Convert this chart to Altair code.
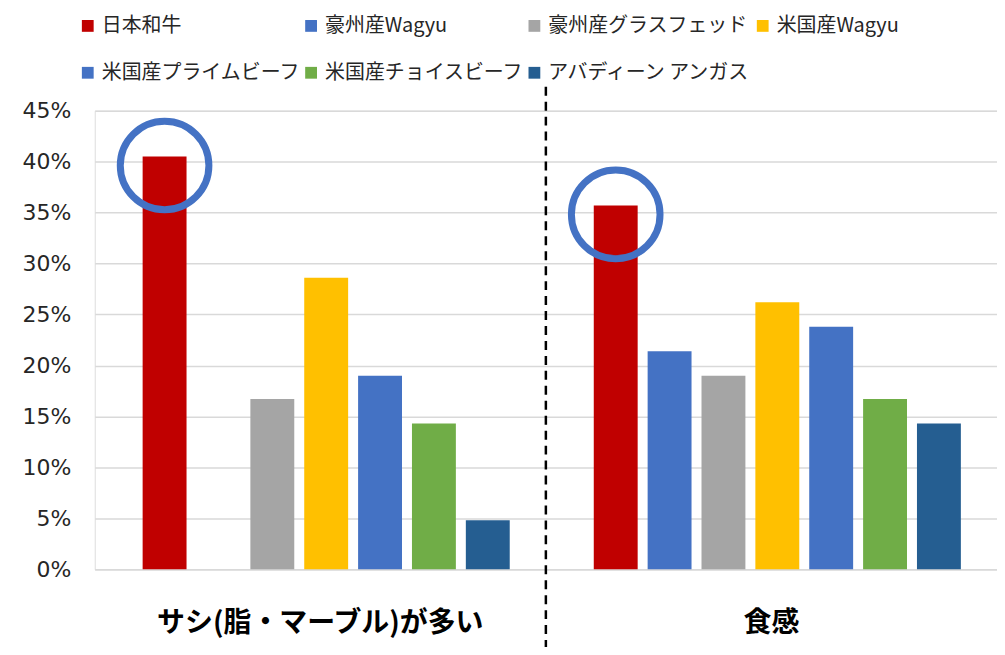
import altair as alt
import pandas as pd

groups = ["サシ(脂・マーブル)が多い", "食感"]
series = ["日本和牛", "豪州産Wagyu", "豪州産グラスフェッド", "米国産Wagyu",
          "米国産プライムビーフ", "米国産チョイスビーフ", "アバディーン アンガス"]
colors = ["#C00000", "#4472C4", "#A5A5A5", "#FFC000", "#4472C4", "#70AD47", "#255E91"]
values_sashi = [0.405, 0.0, 0.167, 0.286, 0.190, 0.143, 0.048]
values_texture = [0.357, 0.214, 0.190, 0.262, 0.238, 0.167, 0.143]
y_ticks = [0, 0.05, 0.10, 0.15, 0.20, 0.25, 0.30, 0.35, 0.40, 0.45]
highlight_series = "日本和牛"
separator_group = "食感"

rows = []
for g, vals in zip(groups, [values_sashi, values_texture]):
    for s, v in zip(series, vals):
        rows.append({"group": g, "series": s, "value": v})
df = pd.DataFrame(rows)
df_hl = df[df["series"] == highlight_series]
df_sep = pd.DataFrame({"group": [separator_group]})

x_enc = alt.X("group:N", sort=groups, title=None,
              scale=alt.Scale(paddingInner=0, paddingOuter=0),
              axis=alt.Axis(labelAngle=0, labelFontSize=28, labelFontWeight="bold",
                            labelFont="Noto Sans CJK JP", labelColor="#000000",
                            ticks=False, tickSize=0, labelPadding=40, labelLimit=600,
                            domainColor="#D9D9D9", domainWidth=1.5))
xoff_enc = alt.XOffset("series:N", sort=series,
                       scale=alt.Scale(paddingInner=0.185, paddingOuter=0.78, align=0.57))
y_enc = alt.Y("value:Q", title=None,
              scale=alt.Scale(domain=[0, 0.45], nice=False),
              axis=alt.Axis(format=".0%", values=y_ticks, domain=False, ticks=False,
                            labelPadding=24, labelFontSize=22, labelFont="DejaVu Sans",
                            labelColor="#262626", gridColor="#D9D9D9", gridWidth=1.5))

bars = alt.Chart(df).mark_bar().encode(
    x=x_enc,
    xOffset=xoff_enc,
    y=y_enc,
    color=alt.Color("series:N", sort=series,
                    scale=alt.Scale(domain=series, range=colors),
                    legend=alt.Legend(title=None, orient="none", legendX=-17, legendY=-95,
                                      direction="horizontal",
                                      columns=4, symbolType="square", symbolSize=140,
                                      symbolStrokeWidth=0, labelFont="Noto Sans CJK JP",
                                      labelFontSize=20, labelColor="#262626",
                                      labelLimit=400, labelOffset=4, columnPadding=0,
                                      rowPadding=27, padding=0)),
)

circles = alt.Chart(df_hl).mark_point(shape="circle", filled=False, strokeWidth=7,
                                      color="#4472C4", opacity=1).encode(
    x=alt.X("group:N", sort=groups),
    xOffset=alt.XOffset("series:N", sort=series),
    y=alt.Y("value:Q"),
    yOffset=alt.value(9),
    size=alt.value(7900),
)

sep = alt.Chart(df_sep).mark_rule(color="#000000", strokeWidth=2.5, strokeDash=[9, 6]).encode(
    x=alt.X("group:N", sort=groups, bandPosition=0),
    y=alt.value(-24),
    y2=alt.value(560),
)

chart = alt.layer(bars, circles, sep).properties(
    width=905, height=460,
    padding={"left": 87, "top": 102, "right": 0, "bottom": 77},
    autosize=alt.AutoSizeParams(type="none"),
).configure_view(stroke=None).configure(background="#FFFFFF")

chart.save("out.html", embed_options={"renderer": "svg", "actions": False})
